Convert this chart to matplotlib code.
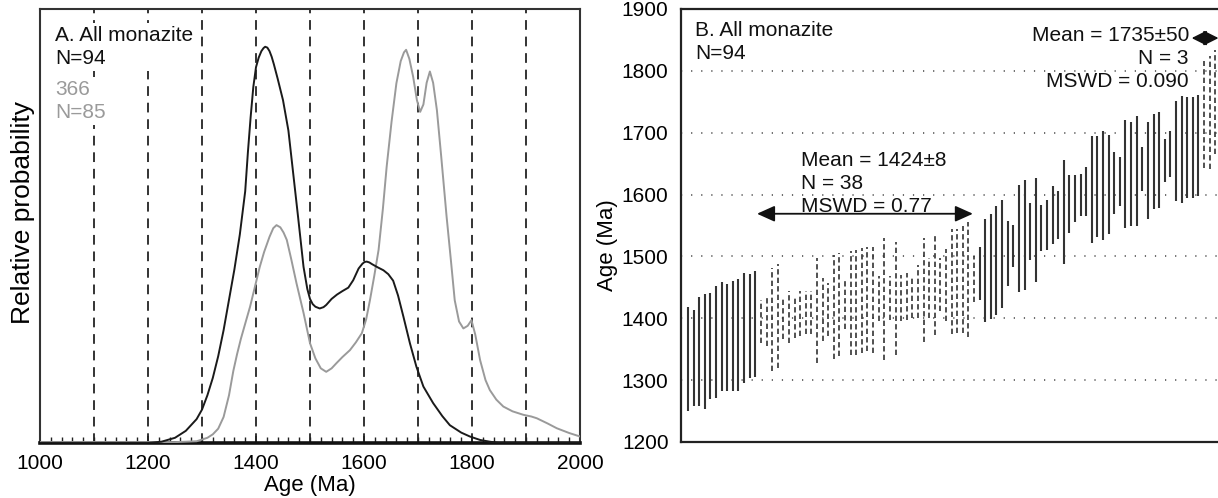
import matplotlib
matplotlib.use("Agg")
import matplotlib.pyplot as plt
import numpy as np

plt.rcParams['font.family'] = ['Liberation Sans', 'DejaVu Sans']

W, H = 1218, 498

# ---------------- Panel A data: probability density curves ----------------
black_age = [1000, 1100, 1200, 1225, 1250, 1270, 1290, 1300, 1310, 1320, 1330, 1340,
             1350, 1360, 1370, 1375, 1380, 1385, 1390, 1395, 1400, 1405, 1410, 1414,
             1417, 1421, 1425, 1429, 1433, 1440, 1450, 1460, 1469, 1478, 1488, 1495,
             1500, 1505, 1510, 1518, 1525, 1530, 1540, 1550, 1560, 1571, 1580, 1590,
             1597, 1601, 1605, 1610, 1615, 1625, 1636, 1645, 1654, 1663, 1673, 1685,
             1697, 1710, 1728, 1745, 1759, 1780, 1796, 1815, 1833, 1850, 2000]
black_prob = [0.0, 0.0, 0.0, 0.003, 0.012, 0.028, 0.055, 0.077, 0.11, 0.15, 0.2, 0.26,
              0.33, 0.4, 0.48, 0.53, 0.58, 0.67, 0.75, 0.82, 0.866, 0.888, 0.903, 0.91,
              0.913, 0.911, 0.903, 0.89, 0.873, 0.84, 0.79, 0.72, 0.62, 0.52, 0.406, 0.355,
              0.332, 0.32, 0.314, 0.31, 0.313, 0.318, 0.332, 0.342, 0.35, 0.358, 0.375, 0.402,
              0.413, 0.417, 0.418, 0.416, 0.412, 0.405, 0.398, 0.389, 0.374, 0.34, 0.291, 0.23,
              0.176, 0.13, 0.092, 0.062, 0.041, 0.024, 0.015, 0.007, 0.003, 0.0, 0.0]

gray_age = [1000, 1250, 1290, 1310, 1320, 1330, 1340, 1350, 1358, 1365, 1372, 1380,
            1389, 1398, 1407, 1415, 1425, 1432, 1438, 1445, 1451, 1457, 1465, 1475,
            1488, 1500, 1510, 1520, 1530, 1540, 1549, 1560, 1574, 1585, 1596, 1604,
            1611, 1619, 1627, 1635, 1642, 1651, 1660, 1668, 1674, 1678, 1684, 1691,
            1698, 1704, 1710, 1716, 1722, 1728, 1735, 1743, 1753, 1761, 1768, 1776,
            1784, 1792, 1799, 1806, 1815, 1825, 1833, 1845, 1858, 1875, 1895, 1910,
            1920, 1940, 1957, 1980, 2000]
gray_prob = [0.002, 0.002, 0.004, 0.012, 0.02, 0.033, 0.06, 0.11, 0.166, 0.205, 0.24, 0.275,
             0.314, 0.36, 0.406, 0.44, 0.475, 0.495, 0.502, 0.497, 0.485, 0.468, 0.425, 0.368,
             0.3, 0.23, 0.195, 0.172, 0.164, 0.172, 0.184, 0.198, 0.214, 0.232, 0.253, 0.285,
             0.329, 0.385, 0.445, 0.54, 0.637, 0.74, 0.829, 0.88, 0.9, 0.906, 0.885, 0.844,
             0.79, 0.763, 0.78, 0.83, 0.856, 0.83, 0.767, 0.66, 0.521, 0.42, 0.329, 0.28,
             0.264, 0.27, 0.283, 0.25, 0.191, 0.145, 0.122, 0.1, 0.084, 0.073, 0.065, 0.061,
             0.057, 0.045, 0.034, 0.023, 0.015]

ref_lines_A = [1100, 1200, 1300, 1400, 1500, 1600, 1700, 1800, 1900]
xticks_A = [1000, 1200, 1400, 1600, 1800, 2000]

# ---------------- Panel B data: individual spot ages (top / bottom of 2-sigma) ----------------
old_hi = [1418, 1413, 1434, 1440, 1441, 1453, 1458, 1456, 1461, 1463, 1474, 1471, 1476]
old_lo = [1250, 1258, 1258, 1253, 1270, 1271, 1282, 1283, 1283, 1282, 1295, 1303, 1305]

m1424_hi = [1430, 1438, 1481, 1488, 1435, 1444, 1435, 1444, 1444, 1444, 1497, 1465, 1457,
            1503, 1505, 1460, 1508, 1511, 1513, 1515, 1515, 1468, 1529, 1468, 1523, 1470,
            1474, 1467, 1486, 1530, 1497, 1538, 1497, 1512, 1544, 1544, 1549, 1555, 1500]
m1424_lo = [1360, 1356, 1314, 1320, 1366, 1360, 1368, 1371, 1374, 1374, 1328, 1363, 1371,
            1334, 1339, 1382, 1341, 1341, 1344, 1347, 1344, 1395, 1332, 1398, 1341, 1396,
            1398, 1400, 1400, 1362, 1400, 1373, 1412, 1395, 1375, 1377, 1377, 1370, 1427]

young_hi = [1516, 1560, 1568, 1582, 1591, 1558, 1550, 1616, 1623, 1587, 1627, 1583, 1592,
            1614, 1605, 1656, 1631, 1631, 1634, 1645, 1695, 1695, 1703, 1697, 1669, 1661,
            1721, 1718, 1727, 1677, 1718, 1730, 1734, 1690, 1702, 1752, 1760, 1757, 1757, 1761]
young_lo = [1430, 1394, 1399, 1405, 1417, 1453, 1483, 1442, 1446, 1495, 1458, 1509, 1511,
            1520, 1528, 1488, 1538, 1556, 1566, 1566, 1521, 1532, 1526, 1536, 1568, 1581,
            1546, 1549, 1549, 1605, 1560, 1576, 1578, 1621, 1629, 1589, 1586, 1595, 1594, 1597]

m1735_hi = [1816, 1824, 1834]
m1735_lo = [1643, 1641, 1666]

mean1_text = "Mean = 1424\u00b18\nN = 38\nMSWD = 0.77"
mean2_text = "Mean = 1735\u00b150\nN = 3\nMSWD = 0.090"
mean1_age = 1569
mean2_age = 1853
yticks_B = [1200, 1300, 1400, 1500, 1600, 1700, 1800, 1900]
grid_B = [1300, 1400, 1500, 1600, 1700, 1800]

# ---------------- figure ----------------
fig = plt.figure(figsize=(W / 100, H / 100), dpi=100)

def fx(px):
    return px / W

def fy(py):
    return 1 - py / H

LS = 1.27

# ---- Panel A ----
axA = fig.add_axes([fx(40), fy(443), (580 - 40) / W, (443 - 9) / H])
for a in ref_lines_A:
    axA.axvline(a, color='#333333', lw=1.4, ls=(0, (5, 3.5)), zorder=1)
axA.plot(gray_age, gray_prob, color='#9a9a9a', lw=1.4, zorder=3)
axA.plot(black_age, black_prob, color='#1a1a1a', lw=1.4, zorder=4)
axA.set_xlim(1000, 2000)
axA.set_ylim(0, 1.0)
axA.set_yticks([])
axA.set_xticks(xticks_A)
axA.set_xticks(np.arange(1000, 2001, 20), minor=True)
axA.tick_params(axis='x', which='major', direction='in', length=5, width=1.2,
                labelsize=15, pad=8, color='#222222')
axA.tick_params(axis='x', which='minor', direction='in', length=4, width=1.0, color='#222222')
for s in ['left', 'right', 'top']:
    axA.spines[s].set_linewidth(1.5)
    axA.spines[s].set_color('#333333')
axA.spines['bottom'].set_linewidth(2.6)
axA.spines['bottom'].set_color('#111111')
axA.set_xlabel('Age (Ma)', fontsize=16, labelpad=1)
axA.set_ylabel('Relative probability', fontsize=19, labelpad=4)
axA.yaxis.set_label_coords(-0.01, 0.53)

fig.text(fx(55), fy(26), "A. All monazite\nN=94", fontsize=15, color='#111111',
         ha='left', va='top', linespacing=LS,
         bbox=dict(facecolor='white', edgecolor='none', pad=2))
fig.text(fx(55), fy(80), "366\nN=85", fontsize=15, color='#9a9a9a',
         ha='left', va='top', linespacing=LS,
         bbox=dict(facecolor='white', edgecolor='none', pad=2))

# ---- Panel B ----
axB = fig.add_axes([fx(681), fy(442), (W - 681) / W, (442 - 9) / H])
for g in grid_B:
    axB.axhline(g, color='#444444', lw=1.1, ls=(0, (0.8, 5.8)), zorder=1)

groups = [(old_hi, old_lo, '-'), (m1424_hi, m1424_lo, (0, (3.2, 1.9))),
          (young_hi, young_lo, '-'), (m1735_hi, m1735_lo, (0, (3.2, 1.9)))]
idx = 0
for hi, lo, style in groups:
    xs = np.arange(idx, idx + len(hi))
    lw = 1.5 if style == '-' else 1.2
    axB.vlines(xs, lo, hi, colors='#333333', linestyles=style, lw=lw, zorder=2)
    idx += len(hi)

axB.set_xlim(-1.25, 94.5)
axB.set_ylim(1200, 1900)
axB.set_xticks([])
axB.set_yticks(yticks_B)
axB.tick_params(axis='y', length=0, labelsize=15, pad=9)
axB.spines['right'].set_visible(False)
for s in ['left', 'top', 'bottom']:
    axB.spines[s].set_linewidth(1.6)
    axB.spines[s].set_color('#222222')
axB.set_ylabel('Age (Ma)', fontsize=16)
axB.yaxis.set_label_coords(-0.117, 0.455)

fig.text(fx(695), fy(21), "B. All monazite\nN=94", fontsize=15, color='#111111',
         ha='left', va='top', linespacing=LS)
fig.text(fx(801), fy(151), mean1_text, fontsize=15, color='#111111',
         ha='left', va='top', linespacing=LS)
fig.text(fx(1189), fy(26), mean2_text, fontsize=15, color='#111111',
         ha='right', va='top', linespacing=LS, multialignment='right')

axB.annotate('', xy=(50.8, mean1_age), xytext=(12.3, mean1_age),
             arrowprops=dict(arrowstyle='<|-|>,head_length=0.6,head_width=0.27',
                             mutation_scale=18, color='#111111', lw=1.3,
                             shrinkA=0, shrinkB=0), zorder=5)
axB.annotate('', xy=(94.6, mean2_age), xytext=(89.8, mean2_age),
             arrowprops=dict(arrowstyle='<|-|>,head_length=0.5,head_width=0.25',
                             mutation_scale=18, color='#111111', lw=1.3,
                             shrinkA=0, shrinkB=0), zorder=5, annotation_clip=False)

fig.savefig('out.png', dpi=100)
